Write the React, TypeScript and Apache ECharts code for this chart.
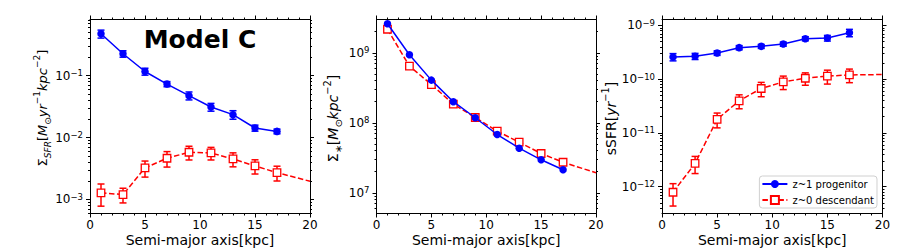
import React, { useEffect, useRef } from 'react';
import * as echarts from 'echarts';

const F = '"DejaVu Sans", sans-serif';

// Semi-major axis positions [kpc]
const radius = [1, 3, 5, 7, 9, 11, 13, 15, 17];
const xTicks = [0, 5, 10, 15, 20];

// Panel 1: Sigma_SFR
const sfrProg = [0.475, 0.226, 0.117, 0.0733, 0.0476, 0.0312, 0.0235, 0.0143, 0.0126];
const sfrProgErr = [0.07, 0.027, 0.015, 0.007, 0.007, 0.0045, 0.0037, 0.0016, 0.0011];
const sfrDesc = [0.00128, 0.0012, 0.00324, 0.00464, 0.0058, 0.00565, 0.00452, 0.00348, 0.00272];
const sfrDescErr = [0.0005, 0.00032, 0.00094, 0.0013, 0.00145, 0.0013, 0.00115, 0.0009, 0.00073];
const sfrDescTail = [20, 0.00197];

// Panel 2: Sigma_*
const massProg = [2.6e9, 9.36e8, 4.07e8, 2.0e8, 1.18e8, 6.8e7, 4.34e7, 2.96e7, 2.13e7];
const massDesc = [2.17e9, 6.44e8, 3.52e8, 1.85e8, 1.19e8, 7.59e7, 5.28e7, 3.64e7, 2.73e7];
const massDescTail = [20, 1.93e7];

// Panel 3: sSFR
const ssfrProg = [2.59e-10, 2.67e-10, 3.07e-10, 3.86e-10, 4.08e-10, 4.5e-10, 5.67e-10, 5.82e-10, 7.31e-10];
const ssfrProgErr = [4e-11, 3.5e-11, 3e-11, 3.5e-11, 3.5e-11, 4e-11, 5e-11, 7e-11, 1.15e-10];
const ssfrDesc = [7.85e-13, 2.7e-12, 1.79e-11, 3.96e-11, 6.71e-11, 8.9e-11, 1.04e-10, 1.14e-10, 1.2e-10];
const ssfrDescErr = [3.5e-13, 9.5e-13, 5.5e-12, 1.15e-11, 2e-11, 2.5e-11, 2.7e-11, 3.3e-11, 3.4e-11];
const ssfrDescTail = [20, 1.22e-10];

// Y tick labels (log decades) and ranges
const yMajor1 = [1e-3, 1e-2, 1e-1];
const yMajor2 = [1e7, 1e8, 1e9];
const yMajor3 = [1e-12, 1e-11, 1e-10, 1e-9];
const yRange1 = [5.94e-4, 0.809];
const yRange2 = [5.06e6, 2.99e9];
const yRange3 = [3.16e-13, 1.29e-9];

const PROG = 'z~1 progenitor';
const DESC = 'z~0 descendant';
const BLUE = '#0000ff';
const RED = '#ff0000';

function minorTicks(range: number[]) {
  const out: number[] = [];
  const d0 = Math.floor(Math.log10(range[0]));
  const d1 = Math.ceil(Math.log10(range[1]));
  for (let d = d0; d <= d1; d++) {
    for (let k = 2; k <= 9; k++) {
      const v = k * Math.pow(10, d);
      if (v > range[0] && v < range[1]) out.push(v);
    }
  }
  return out;
}

const labelRich = {
  b: { fontSize: 12, fontFamily: F, color: '#000', lineHeight: 14 },
  s: { fontSize: 8.5, fontFamily: F, color: '#000', lineHeight: 8, verticalAlign: 'top' },
};

function fmtPow(v: number) {
  const e = Math.round(Math.log10(v));
  const es = e < 0 ? '\u2212' + String(-e) : String(e);
  return '{b|10}{s|' + es + '}';
}

function makeRich(main: number, small: number) {
  return {
    n: { fontSize: main, fontFamily: F, fill: '#000', color: '#000', lineHeight: main + 7 },
    i: { fontSize: main, fontFamily: F, fill: '#000', color: '#000', lineHeight: main + 7, fontStyle: 'italic' },
    sub: { fontSize: small, fontFamily: F, fill: '#000', color: '#000', lineHeight: small + 1, fontStyle: 'italic', verticalAlign: 'bottom' },
    subn: { fontSize: small, fontFamily: F, fill: '#000', color: '#000', lineHeight: small + 1, verticalAlign: 'bottom' },
    sup: { fontSize: small, fontFamily: F, fill: '#000', color: '#000', lineHeight: small + 1, verticalAlign: 'top' },
  };
}

const name1 = '{n|\u03A3}{sub|SFR}{n|[}{i|M}{subn|\u2299}{i|yr}{sup|\u22121}{i|kpc}{sup|\u22122}{n|]}';
const name2 = '{n|\u03A3}{subn|\u2217}{n|[}{i|M}{subn|\u2299}{i|kpc}{sup|\u22122}{n|]}';
const name3 = '{n|sSFR[}{i|yr}{sup|\u22121}{n|]}';

const grids = [
  { left: 90, top: 19.5, width: 220, height: 194 },
  { left: 376.5, top: 19.5, width: 219.5, height: 194 },
  { left: 662, top: 19.5, width: 220.5, height: 194 },
];

const black = { color: '#000', width: 1 };

function errRender(color: string) {
  return (params: any, api: any) => {
    const x = api.value(0);
    const y = api.value(1);
    const e = api.value(2);
    const t = api.coord([x, y + e]);
    const b = api.coord([x, y - e]);
    const w = 3.5;
    const style = { stroke: color, lineWidth: 1.5, fill: 'none' };
    return {
      type: 'group',
      children: [
        { type: 'line', shape: { x1: t[0], y1: t[1], x2: b[0], y2: b[1] }, style },
        { type: 'line', shape: { x1: t[0] - w, y1: t[1], x2: t[0] + w, y2: t[1] }, style },
        { type: 'line', shape: { x1: b[0] - w, y1: b[1], x2: b[0] + w, y2: b[1] }, style },
      ],
    };
  };
}

function buildOption() {
  const panels = [
    { range: yRange1, major: yMajor1, prog: sfrProg, progErr: sfrProgErr, desc: sfrDesc, descErr: sfrDescErr, tail: sfrDescTail },
    { range: yRange2, major: yMajor2, prog: massProg, progErr: null, desc: massDesc, descErr: null, tail: massDescTail },
    { range: yRange3, major: yMajor3, prog: ssfrProg, progErr: ssfrProgErr, desc: ssfrDesc, descErr: ssfrDescErr, tail: ssfrDescTail },
  ];

  const xAxis: any[] = [];
  const yAxis: any[] = [];
  const series: any[] = [];

  panels.forEach((p, g) => {
    const baseX = {
      type: 'value', gridIndex: g, min: 0, max: 20, interval: 5,
      axisLine: { show: true, onZero: false, lineStyle: black },
      axisTick: { show: true, length: 4, lineStyle: black },
      minorTick: { show: true, splitNumber: 5, length: 2, lineStyle: black },
      splitLine: { show: false },
      minorSplitLine: { show: false },
    };
    xAxis.push({
      ...baseX, position: 'bottom',
      axisLabel: { show: true, fontSize: 12, lineHeight: 12, fontFamily: F, color: '#000', margin: 5, customValues: xTicks },
      name: 'Semi-major axis[kpc]', nameLocation: 'middle', nameGap: 19, nameMoveOverlap: false,
      nameTextStyle: { fontSize: 14, lineHeight: 14, fontFamily: F, color: '#000' },
    });
    xAxis.push({ ...baseX, position: 'top', axisLabel: { show: false } });

    const minors = minorTicks(p.range);
    const baseY = {
      type: 'log', logBase: 10, gridIndex: g, min: p.range[0], max: p.range[1],
      splitLine: { show: false }, minorTick: { show: false }, minorSplitLine: { show: false },
    };
    const yi = yAxis.length;
    yAxis.push({
      ...baseY, position: 'left',
      axisLine: { show: true, onZero: false, lineStyle: black },
      axisTick: { show: true, length: 4, customValues: p.major, lineStyle: black },
      axisLabel: { show: true, customValues: p.major, formatter: fmtPow, rich: labelRich, margin: 7 },
    });
    yAxis.push({
      ...baseY, position: 'left',
      axisLine: { show: false, onZero: false },
      axisTick: { show: true, length: 2, customValues: minors, lineStyle: black },
      axisLabel: { show: false },
    });
    yAxis.push({
      ...baseY, position: 'right',
      axisLine: { show: true, onZero: false, lineStyle: black },
      axisTick: { show: true, length: 4, customValues: p.major, lineStyle: black },
      axisLabel: { show: false },
    });
    yAxis.push({
      ...baseY, position: 'right',
      axisLine: { show: false, onZero: false },
      axisTick: { show: true, length: 2, customValues: minors, lineStyle: black },
      axisLabel: { show: false },
    });

    const xi = g * 2;
    if (p.progErr) {
      series.push({
        type: 'custom', xAxisIndex: xi, yAxisIndex: yi, z: 3,
        renderItem: errRender(BLUE), encode: { x: 0, y: 1 },
        data: radius.map((r, k) => [r, p.prog[k], p.progErr![k]]), clip: false,
      });
    }
    if (p.descErr) {
      series.push({
        type: 'custom', xAxisIndex: xi, yAxisIndex: yi, z: 2,
        renderItem: errRender(RED), encode: { x: 0, y: 1 },
        data: radius.map((r, k) => [r, p.desc[k], p.descErr![k]]), clip: false,
      });
    }
    series.push({
      type: 'line', name: PROG, xAxisIndex: xi, yAxisIndex: yi, z: 4,
      data: radius.map((r, k) => [r, p.prog[k]]),
      symbol: 'circle', symbolSize: 7.5,
      itemStyle: { color: BLUE, borderWidth: 0 },
      lineStyle: { color: BLUE, width: 1.5 },
      emphasis: { disabled: true },
    });
    series.push({
      type: 'line', name: DESC, xAxisIndex: xi, yAxisIndex: yi, z: 3,
      data: [...radius.map((r, k) => [r, p.desc[k]]), { value: p.tail, symbol: 'none' }],
      symbol: 'rect', symbolSize: 7.5,
      itemStyle: { color: '#ffffff', borderColor: RED, borderWidth: 1.3 },
      lineStyle: { color: RED, width: 1.5, type: [5.5, 2.5] },
      emphasis: { disabled: true },
    });
  });

  const yName = (text: string, x: number, y: number, main: number, small: number) => ({
    type: 'text', x, y, rotation: Math.PI / 2,
    style: { text, rich: makeRich(main, small), align: 'center', verticalAlign: 'middle', fill: '#000' },
  });

  return {
    animation: false,
    grid: grids.map((g) => ({ ...g, containLabel: false, outerBoundsMode: 'none' })),
    xAxis,
    yAxis,
    series,
    legend: {
      show: true, orient: 'vertical', right: 23, top: 176,
      itemWidth: 25, itemHeight: 10, itemGap: 4,
      padding: [2, 3, 2, 2],
      borderColor: '#d0d0d0', borderWidth: 1, borderRadius: 3,
      backgroundColor: 'rgba(255,255,255,0.8)',
      textStyle: { fontSize: 10, lineHeight: 12, fontFamily: F, color: '#000' },
      data: [PROG, DESC], selectedMode: false,
    },
    graphic: [
      {
        type: 'text', x: 200, y: 39,
        style: { text: 'Model C', fontSize: 25, fontWeight: 'bold', fontFamily: F, fill: '#000', align: 'center', verticalAlign: 'middle' },
      },
      yName(name1, 42, 108, 13, 9),
      yName(name2, 333, 118.5, 14, 9.8),
      yName(name3, 611, 118.5, 14, 9.8),
    ],
  };
}

export default function App() {
  const ref = useRef<HTMLDivElement>(null);
  useEffect(() => {
    if (!ref.current) return;
    const chart = echarts.init(ref.current, undefined, { renderer: 'svg' });
    chart.setOption(buildOption() as any);
    return () => chart.dispose();
  }, []);
  return (
    <div
      ref={ref}
      style={{ position: 'absolute', left: 0, top: 0, width: 900, height: 252, background: '#fff' }}
    />
  );
}
